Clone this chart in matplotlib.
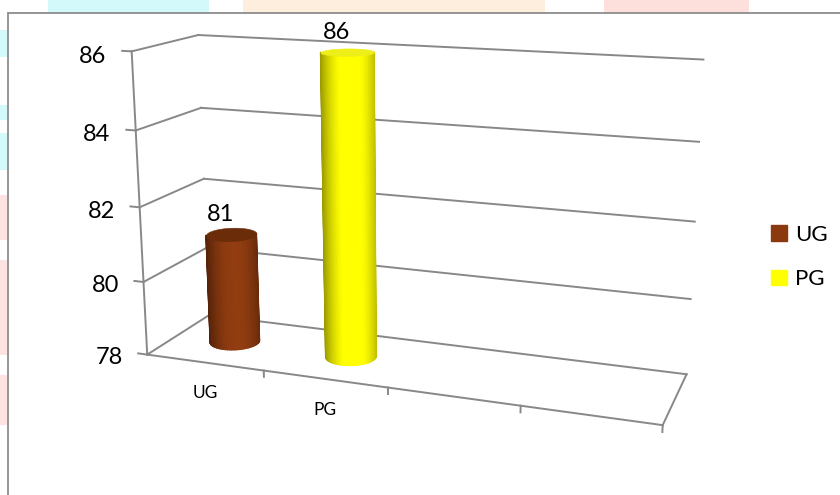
import numpy as np
import matplotlib.pyplot as plt
from matplotlib.colors import to_rgb
from matplotlib.patches import Rectangle, Patch
from matplotlib.transforms import offset_copy
from mpl_toolkits.mplot3d import proj3d
from mpl_toolkits.mplot3d.art3d import Poly3DCollection

plt.rcParams['font.family'] = ['Lato', 'DejaVu Sans']

categories = ['UG', 'PG']
values = [81, 86]
colors = ['#8B3A0F', '#FFFF00']
top_colors = ['#6B2C0A', '#EEEE18']
yticks = [78, 80, 82, 84, 86]
n_slots = 4
zmin, zmax = 78, 86

ELEV, AZIM = 14.6, -70

W, H = 840, 495
fig = plt.figure(figsize=(W / 100, H / 100), dpi=100)

# faint watermark pieces around the chart frame
wm = [((48, 0, 161, 13), '#d4f9fb'), ((243, 0, 302, 13), '#fdeedd'),
      ((604, 0, 145, 13), '#fde0dc'),
      ((0, 30, 8, 27), '#d4f9fb'), ((0, 105, 8, 15), '#d4f9fb'),
      ((0, 133, 8, 37), '#d4f9fb'), ((0, 195, 8, 45), '#fde3e1'),
      ((0, 260, 8, 95), '#fde3e1'), ((0, 375, 8, 50), '#fde3e1')]
for (x, y, w, h), c in wm:
    fig.patches.append(Rectangle((x / W, 1 - (y + h) / H), w / W, h / H,
                                 transform=fig.transFigure, color=c, lw=0))
fig.patches.append(Rectangle((8 / W, -0.1), 1.2, 1.1 - 13 / H, transform=fig.transFigure,
                             fill=False, ec='#8c8c8c', lw=1.3))

S = 495
cx, cy = 405, 274
ax = fig.add_axes([(cx - S / 2) / W, (cy - S / 2) / H, S / W, S / H],
                  projection='3d', computed_zorder=False)
ax.set_proj_type('persp', focal_length=0.515)
ax.view_init(elev=ELEV, azim=AZIM)
ax.set_box_aspect((3.9, 0.985, 2.3), zoom=1.26)
ax.set_xlim(0, n_slots)
ax.set_ylim(0, 1)
ax.set_zlim(zmin, zmax)
ax.set_xticks([])
ax.set_yticks([])
ax.set_zticks([])
ax.set_axis_off()

grid = dict(color='#888888', lw=1.4, zorder=1, clip_on=False)
tick_tf = offset_copy(ax.transData, fig=fig, x=-2, y=-6, units='dots')
for z in yticks:
    ax.plot([0, n_slots], [1, 1], [z, z], **grid)
    ax.plot([0, 0], [0, 1], [z, z], **grid)
    ax.plot([-0.08, 0], [0, 0], [z, z], **grid)
    ax.text(-0.2, 0, z, str(z), ha='right', va='center', fontsize=17, transform=tick_tf)
ax.plot([0, 0], [0, 0], [zmin, zmax], **grid)
ax.plot([0, n_slots], [0, 0], [zmin, zmin], **grid)
ax.plot([n_slots, n_slots], [0, 1], [zmin, zmin], **grid)
for i in range(1, n_slots + 1):
    ax.plot([i, i], [0, 0], [zmin, zmin - 0.17], **grid)
for i, c in enumerate(categories):
    ax.text(i + 0.5, 0, zmin - 0.85, c, ha='center', va='center', fontsize=12.5)

# cylinders: keep the side faces whose projection faces the viewer,
# shade them by where they sit across the visible width
M = ax.get_proj()
r = 0.195
t = np.linspace(0, 2 * np.pi, 73)
label_tf = offset_copy(ax.transData, fig=fig, x=-11, y=20, units='dots')
for i, (v, c, tc) in enumerate(zip(values, colors, top_colors)):
    x0, y0 = i + 0.5, 0.5
    xs, ys = x0 + r * np.cos(t), y0 + r * np.sin(t)
    pxb, pyb, _ = proj3d.proj_transform(xs, ys, np.full_like(xs, zmin), M)
    pxt, pyt, _ = proj3d.proj_transform(xs, ys, np.full_like(xs, v), M)
    area = []
    for k in range(len(t) - 1):
        qx = [pxb[k], pxb[k + 1], pxt[k + 1], pxt[k]]
        qy = [pyb[k], pyb[k + 1], pyt[k + 1], pyt[k]]
        area.append(0.5 * sum(qx[j] * qy[(j + 1) % 4] - qx[(j + 1) % 4] * qy[j]
                              for j in range(4)))
    area = np.array(area)
    front = np.argmax(np.cos(t[:-1] - np.deg2rad(AZIM)))
    vis = np.sign(area) == np.sign(area[front])
    mid = 0.5 * (pxb[:-1] + pxb[1:])
    u = (mid - mid[vis].min()) / (mid[vis].max() - mid[vis].min())
    shade = 0.6 + 0.45 * np.clip(1 - ((u - 0.55) / 0.55) ** 2, 0, 1)
    faces = [[(xs[k], ys[k], zmin), (xs[k + 1], ys[k + 1], zmin),
              (xs[k + 1], ys[k + 1], v), (xs[k], ys[k], v)]
             for k in range(len(t) - 1) if vis[k]]
    fc = np.clip(np.array(to_rgb(c))[None, :] * shade[vis][:, None], 0, 1)
    side = Poly3DCollection(faces, facecolors=fc, edgecolors=fc, lw=1.0,
                            zorder=3, clip_on=False)
    ax.add_collection3d(side)
    top = Poly3DCollection([list(zip(xs, ys, np.full_like(xs, v)))],
                           facecolors=tc, edgecolors=tc, lw=0.4, zorder=4, clip_on=False)
    ax.add_collection3d(top)
    ax.text(x0, y0, v, str(v), ha='center', va='center', fontsize=17,
            transform=label_tf, zorder=5)

handles = [Patch(color=c, label=l) for l, c in zip(categories, colors)]
fig.legend(handles=handles, loc='center left', bbox_to_anchor=(751 / W, 1 - 257 / H),
           frameon=False, fontsize=16, handlelength=0.7, handleheight=0.7,
           handletextpad=0.4, labelspacing=1.1)

fig.savefig('out.png', dpi=100)
